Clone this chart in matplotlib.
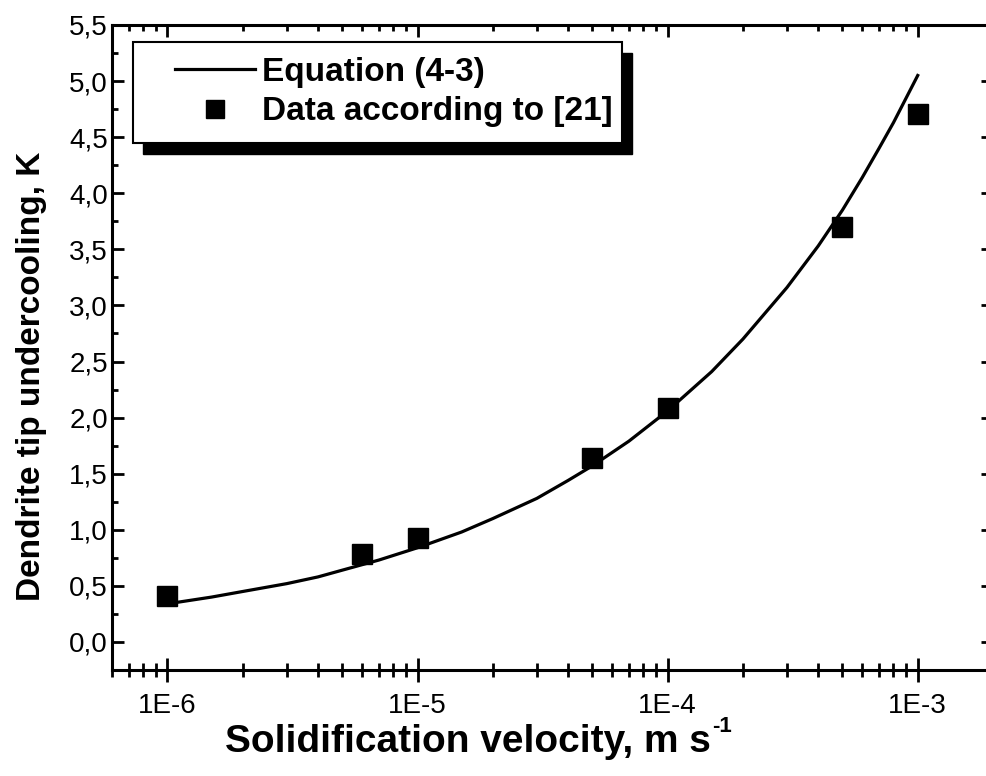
import matplotlib
matplotlib.use("Agg")
import matplotlib.pyplot as plt
from matplotlib.ticker import FixedLocator, FuncFormatter, MultipleLocator, LogLocator, NullFormatter
from matplotlib.lines import Line2D
from matplotlib.patches import Rectangle

plt.rcParams['font.family'] = ['Liberation Sans', 'DejaVu Sans']

# ---- data ----
curve_v = [1e-6, 1.5e-6, 2e-6, 3e-6, 4e-6, 5e-6, 7e-6, 1e-5, 1.5e-5, 2e-5, 3e-5,
           4e-5, 5e-5, 7e-5, 1e-4, 1.5e-4, 2e-4, 3e-4, 4e-4, 5e-4, 6e-4,
           7e-4, 8e-4, 1e-3]
curve_dt = [0.34, 0.40, 0.45, 0.52, 0.58, 0.64, 0.73, 0.84, 0.98, 1.10, 1.28,
            1.44, 1.57, 1.79, 2.06, 2.41, 2.70, 3.16, 3.53, 3.85, 4.14,
            4.40, 4.63, 5.05]

data_v = [1e-6, 6e-6, 1e-5, 5e-5, 1e-4, 5e-4, 1e-3]
data_dt = [0.41, 0.78, 0.93, 1.64, 2.09, 3.70, 4.71]

x_ticks = [1e-6, 1e-5, 1e-4, 1e-3]
x_ticklabels = ['1E-6', '1E-5', '1E-4', '1E-3']
y_ticks = [0.0, 0.5, 1.0, 1.5, 2.0, 2.5, 3.0, 3.5, 4.0, 4.5, 5.0, 5.5]

legend_labels = ['Equation (4-3)', 'Data according to [21]']
x_label = 'Solidification velocity, m s'
x_label_sup = '-1'
y_label = 'Dendrite tip undercooling, K'

W, H = 986, 776
fig = plt.figure(figsize=(W / 100, H / 100), dpi=100)
ax_l, ax_r, ax_t, ax_b = 112, 993, 25, 670
ax = fig.add_axes([ax_l / W, (H - ax_b) / H, (ax_r - ax_l) / W, (ax_b - ax_t) / H])

ax.plot(curve_v, curve_dt, color='black', lw=2.3, solid_joinstyle='round', zorder=3)
ax.plot(data_v, data_dt, linestyle='none', marker='s', ms=13.8, color='black', zorder=4)

ax.set_xscale('log')
ax.set_xlim(6e-7, 2e-3)
ax.set_ylim(-0.25, 5.5)

ax.xaxis.set_major_locator(FixedLocator(x_ticks))
ax.set_xticklabels(x_ticklabels)
ax.xaxis.set_minor_locator(LogLocator(base=10, subs=[2, 3, 4, 5, 6, 7, 8, 9], numticks=20))
ax.xaxis.set_minor_formatter(NullFormatter())

ax.yaxis.set_major_locator(FixedLocator(y_ticks))
ax.yaxis.set_major_formatter(FuncFormatter(lambda v, p: f"{v:.1f}".replace('.', ',')))
ax.yaxis.set_minor_locator(MultipleLocator(0.25))

for s in ax.spines.values():
    s.set_linewidth(2.2)

ax.tick_params(axis='x', which='major', direction='inout', length=17, width=2.0,
               labelsize=20, pad=8, top=False)
ax.tick_params(axis='x', which='minor', direction='inout', length=9.5, width=2.0, top=False)
ax.tick_params(axis='y', which='major', direction='in', length=8.6, width=2.0,
               labelsize=20, pad=3, right=True)
ax.tick_params(axis='y', which='minor', direction='in', length=4.3, width=2.0, right=True)

# top axis ticks (inward)
axt = ax.twiny()
axt.set_xscale('log')
axt.set_xlim(ax.get_xlim())
axt.xaxis.set_major_locator(FixedLocator(x_ticks))
axt.xaxis.set_minor_locator(LogLocator(base=10, subs=[2, 3, 4, 5, 6, 7, 8, 9], numticks=20))
axt.tick_params(axis='x', which='major', direction='in', length=8.6, width=2.0, labeltop=False)
axt.tick_params(axis='x', which='minor', direction='in', length=4.3, width=2.0, labeltop=False)
for s in axt.spines.values():
    s.set_visible(False)

# axis titles
xl = fig.text(468 / W, 1 - 742 / H, x_label, fontsize=28, fontweight='bold',
              ha='center', va='center')
ax.annotate(x_label_sup, xy=(1, 1), xycoords=xl, xytext=(1, 6), textcoords='offset points',
            fontsize=16, fontweight='bold', ha='left', va='top', annotation_clip=False)
fig.text(32 / W, 1 - 376 / H, y_label, fontsize=24, fontweight='bold',
         ha='center', va='center', rotation=90)

# legend box with offset black shadow
def px2ax(x, y):
    return ((x - ax_l) / (ax_r - ax_l), (ax_b - y) / (ax_b - ax_t))

bx0, by0 = px2ax(133, 143)
bx1, by1 = px2ax(622, 42)
sx0, sy0 = px2ax(143, 154)
sx1, sy1 = px2ax(632, 53)
ax.add_patch(Rectangle((sx0, sy0), sx1 - sx0, sy1 - sy0, transform=ax.transAxes,
                       facecolor='black', edgecolor='black', zorder=6, clip_on=False))
ax.add_patch(Rectangle((bx0, by0), bx1 - bx0, by1 - by0, transform=ax.transAxes,
                       facecolor='white', edgecolor='black', lw=1.5, zorder=7, clip_on=False))

handles = [Line2D([], [], color='black', lw=2.3),
           Line2D([], [], linestyle='none', marker='s', ms=12.5, color='black')]
lx, ly = px2ax(175, 57)
leg = ax.legend(handles, legend_labels, loc='upper left', bbox_to_anchor=(lx, ly),
                frameon=False, borderaxespad=0, borderpad=0,
                prop={'size': 24, 'weight': 'bold'},
                handlelength=2.4, handletextpad=0.2, labelspacing=0.25)
leg.set_zorder(8)

fig.savefig('out.png', dpi=100)
